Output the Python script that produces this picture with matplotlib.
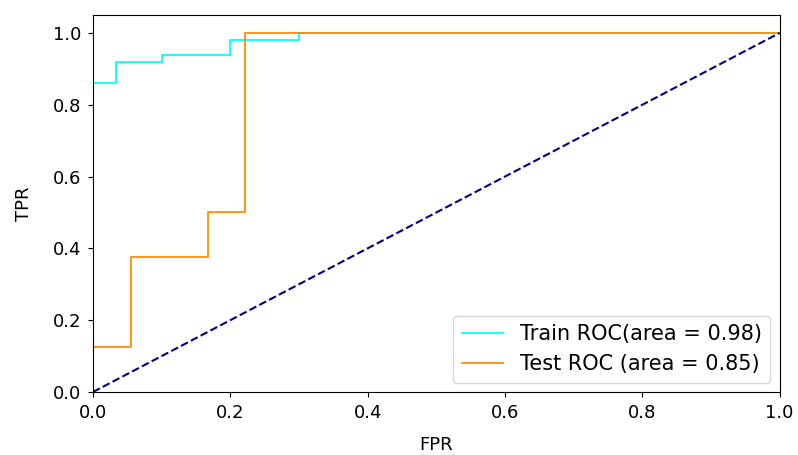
import matplotlib
matplotlib.use('Agg')
from matplotlib import pyplot as plt

# ROC points
train_fpr = [0.0, 0.0, 0.034, 0.034, 0.1, 0.1, 0.2, 0.2, 0.3, 0.3, 1.0]
train_tpr = [0.0, 0.86, 0.86, 0.92, 0.92, 0.94, 0.94, 0.98, 0.98, 1.0, 1.0]
test_fpr = [0.0, 0.0, 0.056, 0.056, 0.167, 0.167, 0.222, 0.222, 1.0]
test_tpr = [0.0, 0.125, 0.125, 0.375, 0.375, 0.5, 0.5, 1.0, 1.0]
train_auc = 0.98
test_auc = 0.85

fig = plt.figure(figsize=(7.98, 4.55), dpi=100)
ax = fig.add_axes([0.1165, 0.1385, 0.8605, 0.8285])

ax.plot(train_fpr, train_tpr, color='cyan', lw=1.3,
        label='Train ROC(area = %0.2f)' % train_auc)
ax.plot(test_fpr, test_tpr, color='darkorange', lw=1.3,
        label='Test ROC (area = %0.2f)' % test_auc)
ax.plot([0, 1], [0, 1], color='navy', lw=1.5, linestyle='--')

ax.set_xlim(0.0, 1.0)
ax.set_ylim(0.0, 1.05)
ax.set_xlabel('FPR', fontsize=13, labelpad=10)
ax.set_ylabel('TPR', fontsize=13, labelpad=14)
ax.tick_params(axis='both', labelsize=13, pad=5)
ax.legend(loc='lower right', fontsize=15, borderaxespad=0.45)

fig.savefig('out.png', dpi=100)
